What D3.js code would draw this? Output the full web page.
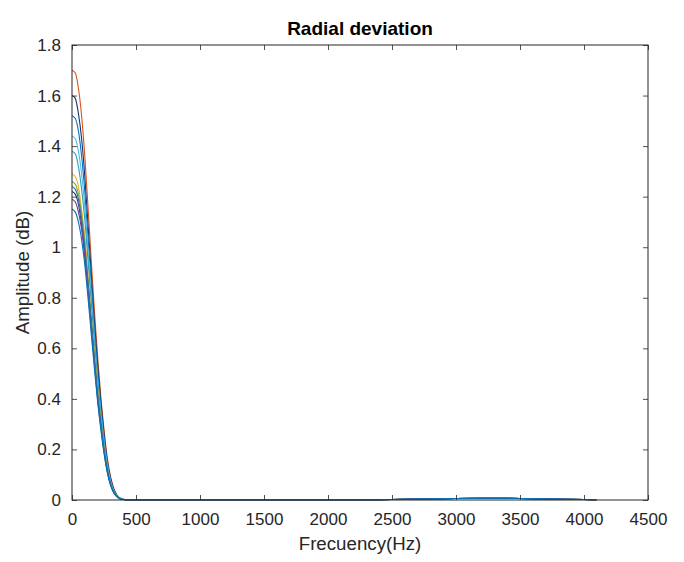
<!DOCTYPE html>
<html>
<head>
<meta charset="utf-8">
<script src="https://cdn.jsdelivr.net/npm/d3@7"></script>
<style>
  body { margin: 0; background: #fff; }
  text { font-family: "Liberation Sans", Arial, sans-serif; fill: #262626; }
</style>
</head>
<body>
<svg id="chart" width="684" height="562"></svg>
<script>
// frequency grid (Hz) for the low part of every curve
var lowHz = [0, 25, 50, 75, 100, 125, 150, 175, 200, 225, 250, 275, 300, 325, 350, 375, 400];
// shared high-frequency tail
var tailHz = [450, 500, 750, 1000, 1500, 2000, 2500, 2750, 3000, 3250, 3500, 3750, 4000, 4096];
var tailAmp = [0.001, 0.001, 0.001, 0.001, 0.001, 0.001, 0.002, 0.004, 0.006, 0.007, 0.006, 0.004, 0.002, 0.001];

var curveA = [1.70, 1.69, 1.63, 1.52, 1.36, 1.16, 0.95, 0.75, 0.57, 0.41, 0.28, 0.17, 0.095, 0.048, 0.021, 0.008, 0.003];
var curveB = [1.60, 1.59, 1.53, 1.43, 1.28, 1.09, 0.90, 0.71, 0.54, 0.39, 0.263, 0.159, 0.089, 0.045, 0.020, 0.007, 0.003];
var curveC = [1.52, 1.51, 1.46, 1.36, 1.22, 1.04, 0.86, 0.67, 0.51, 0.37, 0.249, 0.150, 0.084, 0.042, 0.018, 0.007, 0.003];
var curveD = [1.44, 1.43, 1.38, 1.29, 1.16, 0.99, 0.81, 0.64, 0.48, 0.35, 0.235, 0.142, 0.078, 0.039, 0.017, 0.007, 0.002];
var curveE = [1.38, 1.37, 1.32, 1.23, 1.11, 0.95, 0.78, 0.62, 0.47, 0.33, 0.225, 0.135, 0.075, 0.038, 0.016, 0.006, 0.002];
var curveF = [1.29, 1.28, 1.24, 1.15, 1.04, 0.89, 0.73, 0.58, 0.44, 0.31, 0.209, 0.125, 0.069, 0.035, 0.015, 0.006, 0.002];
var curveG = [1.26, 1.25, 1.21, 1.13, 1.02, 0.87, 0.72, 0.57, 0.43, 0.31, 0.204, 0.122, 0.067, 0.034, 0.015, 0.006, 0.002];
var curveH = [1.22, 1.21, 1.17, 1.09, 0.98, 0.85, 0.70, 0.55, 0.41, 0.30, 0.197, 0.118, 0.064, 0.032, 0.014, 0.005, 0.002];
var curveI = [1.19, 1.18, 1.14, 1.07, 0.96, 0.83, 0.68, 0.54, 0.40, 0.29, 0.192, 0.114, 0.063, 0.031, 0.014, 0.005, 0.002];
var curveJ = [1.24, 1.23, 1.19, 1.11, 1.00, 0.86, 0.71, 0.56, 0.42, 0.30, 0.201, 0.12, 0.066, 0.033, 0.014, 0.005, 0.002];
var curveK = [1.15, 1.14, 1.10, 1.03, 0.93, 0.80, 0.66, 0.52, 0.39, 0.28, 0.185, 0.11, 0.06, 0.03, 0.013, 0.005, 0.002];

var curves = [curveA, curveB, curveC, curveD, curveE, curveF, curveG, curveH, curveI, curveJ, curveK];
var colors = ["#D95319", "#1f2f6b", "#0072BD", "#4DBEEE", "#2a9fb8", "#EDB120",
  "#77AC30", "#253a78", "#7E2F8E", "#3d6fa8", "#0072BD"];

var xTicks = [0, 500, 1000, 1500, 2000, 2500, 3000, 3500, 4000, 4500];
var yTicks = [0, 0.2, 0.4, 0.6, 0.8, 1, 1.2, 1.4, 1.6, 1.8];

var margin = {left: 72, right: 36, top: 45, bottom: 62};
var width = 684, height = 562;

var svg = d3.select("#chart");

var x = d3.scaleLinear().domain([0, 4500]).range([margin.left, width - margin.right]);
var y = d3.scaleLinear().domain([0, 1.8]).range([height - margin.bottom, margin.top]);

// curves
var line = d3.line()
  .x(function(d) { return x(d[0]); })
  .y(function(d) { return y(d[1]); })
  .curve(d3.curveMonotoneX);

curves.forEach(function(c, i) {
  var pts = lowHz.map(function(f, j) { return [f, c[j]]; });
  tailHz.forEach(function(f, j) { pts.push([f, tailAmp[j]]); });
  svg.append("path")
    .datum(pts)
    .attr("fill", "none")
    .attr("stroke", colors[i])
    .attr("stroke-width", 1.1)
    .attr("d", line);
});

// axes, ticks inside like matlab
var tickLen = 5;
var xAxis = d3.axisBottom(x).tickValues(xTicks).tickSize(-tickLen).tickPadding(13)
  .tickFormat(d3.format("d"));
var yAxis = d3.axisLeft(y).tickValues(yTicks).tickSize(-tickLen).tickPadding(11)
  .tickFormat(function(d) { return d3.format("~g")(d); });

var gx = svg.append("g").attr("transform", "translate(0," + y(0) + ")").call(xAxis);
var gy = svg.append("g").attr("transform", "translate(" + x(0) + ",0)").call(yAxis);
// top and right ticks
svg.append("g").attr("transform", "translate(0," + y(1.8) + ")")
  .call(d3.axisTop(x).tickValues(xTicks).tickSize(-tickLen).tickFormat(""));
svg.append("g").attr("transform", "translate(" + x(4500) + ",0)")
  .call(d3.axisRight(y).tickValues(yTicks).tickSize(-tickLen).tickFormat(""));

svg.selectAll(".domain").remove();
svg.selectAll(".tick line").attr("stroke", "#262626").attr("stroke-width", 0.8);
gx.selectAll("text").style("font-size", "17px").style("fill", "#262626");
gy.selectAll("text").style("font-size", "17px").style("fill", "#262626");

// box
svg.append("rect")
  .attr("x", x(0)).attr("y", y(1.8))
  .attr("width", x(4500) - x(0)).attr("height", y(0) - y(1.8))
  .attr("fill", "none").attr("stroke", "#262626").attr("stroke-width", 1);

// labels
svg.append("text")
  .attr("x", (x(0) + x(4500)) / 2).attr("y", 35)
  .attr("text-anchor", "middle")
  .style("font-size", "19px").style("font-weight", "bold")
  .style("fill", "#000")
  .text("Radial deviation");

svg.append("text")
  .attr("x", (x(0) + x(4500)) / 2).attr("y", 550)
  .attr("text-anchor", "middle")
  .style("font-size", "18.7px")
  .text("Frecuency(Hz)");

svg.append("text")
  .attr("transform", "translate(29," + (y(0) + y(1.8)) / 2 + ") rotate(-90)")
  .attr("text-anchor", "middle")
  .style("font-size", "18.7px")
  .text("Amplitude (dB)");
</script>
</body>
</html>
